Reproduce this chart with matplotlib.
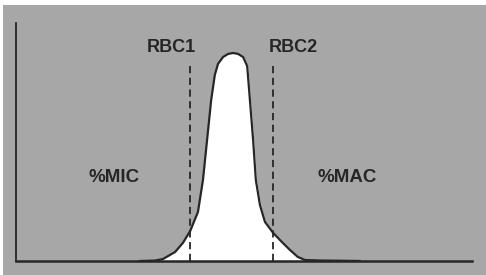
import matplotlib
matplotlib.use("Agg")
import matplotlib.pyplot as plt

# curva de distribuição do volume das hemácias
volume = [27.2, 30.5, 32.2, 34.9, 36.6, 38.2, 39.9, 41.0, 41.9, 42.8, 43.6, 44.3,
          45.4, 46.5, 47.6, 48.7, 49.8, 50.7, 51.3, 52.0, 52.6, 53.5, 54.6, 56.4,
          58.3, 60.1, 61.8, 63.4, 66.7, 71.7, 75.4]
frequencia = [0.0, 0.2, 0.8, 3.8, 7.6, 12.6, 20.6, 34.0, 50.8, 67.6, 78.2, 82.8,
              85.7, 87.0, 87.4, 87.0, 85.7, 81.9, 67.6, 50.8, 34.0, 23.5, 16.4, 11.8,
              8.0, 4.6, 1.7, 0.4, 0.2, 0.1, 0.0]

limiares = [38.2, 56.4]
limiar_nomes = ["RBC1", "RBC2"]
altura_limiar = 83.2

regioes = ["%MIC", "%MAC"]
regioes_x = [21.5, 72.6]
regioes_y = 35.0

fundo = "#a7a7a7"
tinta = "#262626"

fig = plt.figure(figsize=(4.86, 2.75), dpi=100, facecolor="white")
# retângulo cinza de fundo (deixa uma borda branca em cima e à esquerda)
fundo_ret = plt.Rectangle((3 / 486, 0), 1, 1 - 5 / 275, transform=fig.transFigure,
                          facecolor=fundo, edgecolor="none", zorder=-10)
fig.add_artist(fundo_ret)

ax = fig.add_axes([16 / 486, 14 / 275, 456 / 486, 238 / 275])
ax.set_facecolor("none")
ax.set_zorder(5)

ax.fill_between(volume, frequencia, 0, color="white", zorder=1)
ax.plot(volume, frequencia, color=tinta, lw=1.6, zorder=3)

for x, nome in zip(limiares, limiar_nomes):
    ax.vlines(x, 0, altura_limiar, colors=tinta, linestyles=(0, (4, 2.5)), lw=1.3, zorder=2)

ax.text(limiares[0] - 4.2, altura_limiar + 6.5, limiar_nomes[0], ha="center", va="center",
        fontsize=13, fontweight="bold", color=tinta, family="Liberation Sans")
ax.text(limiares[1] + 4.4, altura_limiar + 6.5, limiar_nomes[1], ha="center", va="center",
        fontsize=13, fontweight="bold", color=tinta, family="Liberation Sans")

for x, nome in zip(regioes_x, regioes):
    ax.text(x, regioes_y, nome, ha="center", va="center", fontsize=13.5,
            fontweight="bold", color=tinta, family="Liberation Sans")

ax.set_xlim(0, 100)
ax.set_ylim(0, 100)
ax.spines["top"].set_visible(False)
ax.spines["right"].set_visible(False)
ax.spines["left"].set_color(tinta)
ax.spines["bottom"].set_color(tinta)
ax.spines["left"].set_linewidth(1.3)
ax.spines["bottom"].set_linewidth(1.8)
ax.set_xticks([])
ax.set_yticks([])

fig.savefig("out.png", dpi=100, facecolor="white")
